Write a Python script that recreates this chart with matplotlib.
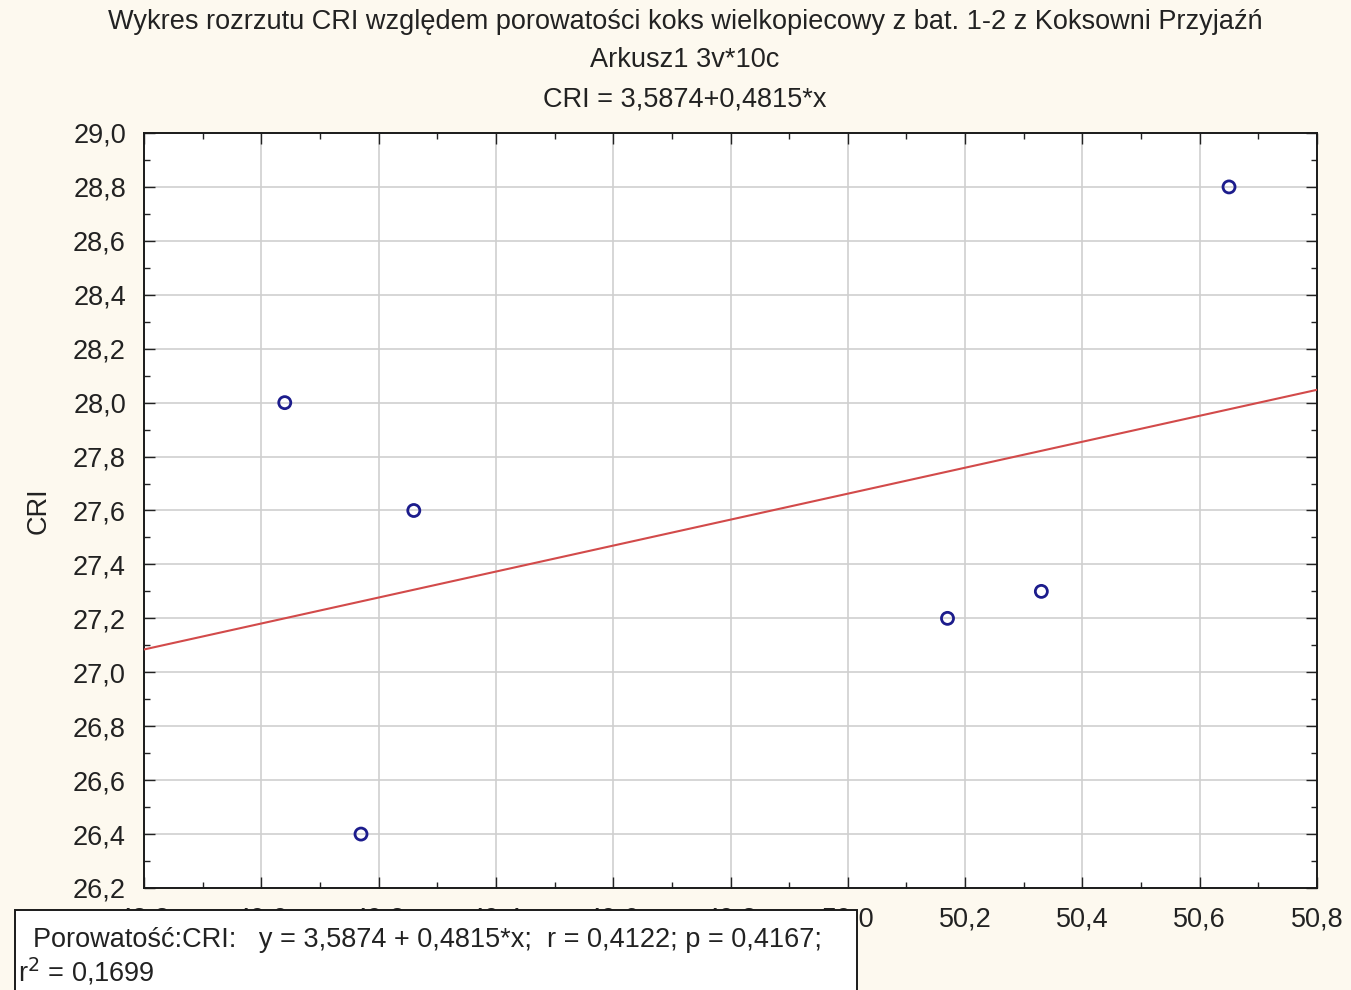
import numpy as np
import matplotlib
matplotlib.use("Agg")
import matplotlib.pyplot as plt
from matplotlib.ticker import MultipleLocator, FuncFormatter
from matplotlib.patches import Rectangle

plt.rcParams['font.family'] = ['Liberation Sans', 'DejaVu Sans']

# porosity vs CRI
porowatosc = [49.04, 49.17, 49.26, 50.17, 50.33, 50.65]
cri = [28.0, 26.4, 27.6, 27.2, 27.3, 28.8]

intercept = 3.5874
slope = 0.4815

title_lines = [
    "Wykres rozrzutu CRI względem porowatości koks wielkopiecowy z bat. 1-2 z Koksowni Przyjaźń",
    "Arkusz1 3v*10c",
    "CRI = 3,5874+0,4815*x",
]
stats_line1 = "  Porowatość:CRI:   y = 3,5874 + 0,4815*x;  r = 0,4122; p = 0,4167;"
stats_line2 = "r$^2$ = 0,1699"

W, H = 1351, 990
fs = 19.5
fig = plt.figure(figsize=(W / 100, H / 100), dpi=100, facecolor='#fdf9ef')
ax = fig.add_axes([144 / W, 1 - 888 / H, (1317 - 144) / W, (888 - 133) / H])
ax.set_facecolor('white')

x_min, x_max = 48.8, 50.8
xs = np.array([x_min, x_max])
ax.plot(xs, intercept + slope * xs, color='#d24a4a', linewidth=1.5, zorder=3)
ax.scatter(porowatosc, cri, s=75, facecolors='none', edgecolors='#1c1c8c',
           linewidths=2.0, zorder=4)

ax.set_xlim(x_min, x_max)
ax.set_ylim(26.2, 29.0)
ax.xaxis.set_major_locator(MultipleLocator(0.2))
ax.xaxis.set_minor_locator(MultipleLocator(0.1))
ax.yaxis.set_major_locator(MultipleLocator(0.2))
ax.yaxis.set_minor_locator(MultipleLocator(0.1))
comma = FuncFormatter(lambda v, p: f"{v:.1f}".replace('.', ','))
ax.xaxis.set_major_formatter(comma)
ax.yaxis.set_major_formatter(comma)
ax.tick_params(which='both', direction='in', top=True, right=True, colors='#222222')
ax.tick_params(which='major', length=8, width=1, labelsize=fs, pad=13)
ax.tick_params(which='minor', length=4, width=1)
ax.grid(True, which='major', color='#cfcfcf', linewidth=1.2)
for s in ax.spines.values():
    s.set_color('#1a1a1a')
    s.set_linewidth(1.4)

ax.set_ylabel("CRI", fontsize=fs, color='#222222')
ax.yaxis.set_label_coords(-(144 - 52) / (1317 - 144), 0.5)

tops = [22, 60, 99]
for line, yt in zip(title_lines, tops):
    fig.text(685 / W, 1 - yt / H, line, ha='center', va='center',
             fontsize=fs, color='#222222')

# stats box sits over the left x tick labels, as in the original
box = Rectangle((15 / W, -0.02), (857 - 15) / W, 0.02 + 80 / H, transform=fig.transFigure,
                facecolor='white', edgecolor='#1a1a1a', linewidth=1.4, zorder=10)
fig.patches.append(box)
fig.text(18 / W, 1 - 940 / H, stats_line1, ha='left', va='center', fontsize=fs,
         color='#222222', zorder=11)
fig.text(18 / W, 1 - 972 / H, stats_line2, ha='left', va='center', fontsize=fs,
         color='#222222', zorder=11)

fig.savefig("out.png", dpi=100, facecolor=fig.get_facecolor())
